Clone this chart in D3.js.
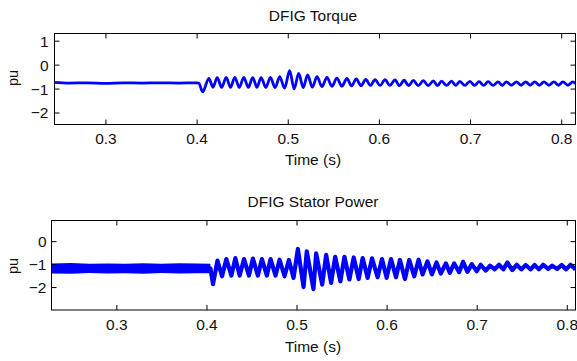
<!DOCTYPE html>
<html><head><meta charset="utf-8">
<script src="https://cdn.jsdelivr.net/npm/d3@7"></script>
<style>
html,body{margin:0;padding:0;background:#fff;}
svg{display:block;font-family:"Liberation Sans",Arial,Helvetica,sans-serif;}
</style></head>
<body>
<svg id="chart" width="577" height="361"></svg>
<script>
// ---------- data ----------
const titles = ["DFIG Torque", "DFIG Stator Power"];
const xLabel = "Time (s)";
const yLabel = "pu";
const xTicks = [0.3, 0.4, 0.5, 0.6, 0.7, 0.8];
const torqueYTicks = [1, 0, -1, -2];
const statorYTicks = [0, -1, -2];

// DFIG torque: [time s, pu] (line centre at peaks / troughs)
const torque = [
[0.244,-0.74],[0.26,-0.77],[0.28,-0.76],[0.30,-0.78],[0.32,-0.76],[0.34,-0.77],[0.36,-0.76],[0.38,-0.77],[0.400,-0.76],[0.4025,-0.77],[0.4065,-1.14],
[0.4135,-0.58],[0.4180,-0.95],[0.4226,-0.54],[0.4275,-0.95],[0.4325,-0.53],[0.4372,-0.95],[0.4419,-0.53],[0.4468,-0.95],[0.4518,-0.53],[0.4567,-0.95],
[0.4616,-0.54],[0.4662,-0.95],[0.4708,-0.54],[0.4760,-0.95],[0.4810,-0.53],[0.4861,-0.96],[0.4912,-0.50],[0.4965,-0.98],[0.5021,-0.25],[0.5070,-1.01],
[0.5120,-0.37],[0.5170,-0.96],[0.5218,-0.43],[0.5270,-0.94],[0.5321,-0.50],[0.5375,-0.92],[0.5430,-0.53],[0.5485,-0.91],[0.5539,-0.56],[0.5594,-0.90],
[0.5649,-0.58],[0.5700,-0.89],[0.5751,-0.60],[0.5804,-0.88],[0.5856,-0.62],[0.5907,-0.87],[0.5958,-0.63],[0.6013,-0.87],[0.6068,-0.63],[0.6120,-0.87],
[0.6177,-0.64],[0.6226,-0.88],[0.6276,-0.65],[0.6327,-0.88],[0.6378,-0.66],[0.6432,-0.88],[0.6487,-0.67],[0.6542,-0.88],[0.6597,-0.68],[0.6642,-0.88],
[0.6688,-0.69],[0.6742,-0.87],[0.6797,-0.69],[0.6842,-0.87],[0.6888,-0.70],[0.6943,-0.87],[0.6998,-0.70],[0.7049,-0.87],[0.7100,-0.71],[0.7149,-0.87],
[0.7198,-0.71],[0.7253,-0.87],[0.7308,-0.72],[0.7353,-0.86],[0.7399,-0.72],[0.7454,-0.86],[0.7509,-0.72],[0.7560,-0.86],[0.7611,-0.72],[0.7660,-0.86],
[0.7709,-0.72],[0.7760,-0.86],[0.7811,-0.72],[0.7865,-0.86],[0.7920,-0.72],[0.7970,-0.86],[0.8019,-0.72],[0.8074,-0.86],[0.8128,-0.72],[0.8157,-0.80]
];

// DFIG stator power: [time s, pu]
const stator = [
[0.228,-1.19],[0.4044,-1.19],[0.4073,-1.87],[0.4122,-0.85],[0.4173,-1.53],[0.4221,-0.78],[0.4277,-1.50],[0.4321,-0.74],[0.4369,-1.50],[0.4417,-0.78],
[0.4472,-1.50],[0.4516,-0.76],[0.4571,-1.50],[0.4616,-0.78],[0.4671,-1.50],[0.4712,-0.78],[0.4767,-1.50],[0.4812,-0.81],[0.4867,-1.53],[0.4915,-0.82],
[0.4967,-1.60],[0.5015,-0.34],[0.5078,-2.00],[0.5114,-0.44],[0.5188,-2.09],[0.5218,-0.53],[0.5285,-1.89],[0.5329,-0.60],[0.5384,-1.82],[0.5429,-0.68],
[0.5487,-1.75],[0.5532,-0.68],[0.5587,-1.67],[0.5635,-0.71],[0.5690,-1.65],[0.5734,-0.74],[0.5790,-1.60],[0.5838,-0.75],[0.5900,-1.57],[0.5949,-0.78],
[0.6000,-1.60],[0.6049,-0.78],[0.6104,-1.57],[0.6148,-0.82],[0.6204,-1.65],[0.6251,-0.82],[0.6307,-1.53],[0.6355,-0.81],[0.6399,-1.45],[0.6454,-0.88],
[0.6503,-1.45],[0.6554,-0.93],[0.6602,-1.41],[0.6658,-0.97],[0.6702,-1.38],[0.6750,-0.97],[0.6805,-1.35],[0.6849,-0.90],[0.6897,-1.34],[0.6946,-1.00],
[0.7001,-1.31],[0.7045,-1.03],[0.7101,-1.28],[0.7148,-1.07],[0.7200,-1.23],[0.7248,-1.03],[0.7296,-1.23],[0.7340,-0.93],[0.7395,-1.26],[0.7444,-1.03],
[0.7495,-1.23],[0.7544,-1.04],[0.7599,-1.23],[0.7643,-1.04],[0.7691,-1.23],[0.7739,-1.03],[0.7794,-1.21],[0.7838,-1.07],[0.7894,-1.21],[0.7943,-1.04],
[0.7993,-1.23],[0.8042,-1.03],[0.8097,-1.23]
];
// pre-fault high-frequency ripple band of the stator power: [time, upper, lower]
const statorBand = [
[0.228,-0.97,-1.41],[0.25,-0.95,-1.42],[0.27,-0.99,-1.39],[0.29,-0.97,-1.41],[0.31,-0.98,-1.40],[0.33,-0.96,-1.42],
[0.35,-0.98,-1.39],[0.37,-0.96,-1.41],[0.39,-0.97,-1.40],[0.4044,-0.98,-1.40]
];

// ---------- drawing ----------
const svg = d3.select("#chart");
const BLUE = "#0000ff";

const panels = [
  {title: titles[0], data: torque, band: null, yTicks: torqueYTicks,
   xDom: [0.2441, 0.8157], yDom: [-2.5, 1.3], curve: d3.curveMonotoneX,
   L: 54.5, R: 575.5, T: 33.5, B: 124.5, sw: 2.8,
   titleY: 21, tickY: 19.7, labelY: 165, yTickPad: 6, pu: {x: 17.8, y: 78}},
  {title: titles[1], data: stator, band: statorBand, yTicks: statorYTicks,
   xDom: [0.228, 0.8097], yDom: [-3, 0.9], curve: d3.curveLinear,
   L: 51.5, R: 575.5, T: 220.5, B: 310, sw: 4.2,
   titleY: 207.3, tickY: 20, labelY: 351.5, yTickPad: 5, pu: {x: 17.8, y: 266}}
];

panels.forEach((p, i) => {
  const x = d3.scaleLinear().domain(p.xDom).range([p.L, p.R]);
  const y = d3.scaleLinear().domain(p.yDom).range([p.B, p.T]);
  const g = svg.append("g");

  const clipId = "clip" + i;
  svg.append("clipPath").attr("id", clipId).append("rect")
    .attr("x", p.L).attr("y", p.T).attr("width", p.R - p.L).attr("height", p.B - p.T);

  const plot = g.append("g").attr("clip-path", `url(#${clipId})`);
  if (p.band) {
    plot.append("path").datum(p.band)
      .attr("fill", BLUE)
      .attr("d", d3.area().x(d => x(d[0])).y0(d => y(d[2])).y1(d => y(d[1])));
  }
  plot.append("path").datum(p.data)
    .attr("fill", "none").attr("stroke", BLUE).attr("stroke-width", p.sw)
    .attr("stroke-linejoin", "round")
    .attr("d", d3.line().curve(p.curve).x(d => x(d[0])).y(d => y(d[1])));

  // axes (ticks inward, mirrored on all four sides)
  const fs = "15.5px";
  const bx = g.append("g").attr("transform", `translate(0,${p.B})`)
    .call(d3.axisBottom(x).tickValues(xTicks).tickSize(-5).tickFormat(d3.format(".1f")));
  bx.selectAll("text").attr("y", p.tickY).attr("dy", 0).style("font-size", fs);
  const tx = g.append("g").attr("transform", `translate(0,${p.T})`)
    .call(d3.axisTop(x).tickValues(xTicks).tickSize(-5).tickFormat(""));
  const ly = g.append("g").attr("transform", `translate(${p.L},0)`)
    .call(d3.axisLeft(y).tickValues(p.yTicks).tickSize(-5).tickPadding(p.yTickPad).tickFormat(d3.format("d")));
  ly.selectAll("text").style("font-size", fs).attr("dy", "0.35em");
  const ry = g.append("g").attr("transform", `translate(${p.R},0)`)
    .call(d3.axisRight(y).tickValues(p.yTicks).tickSize(-5).tickFormat(""));
  [bx, tx, ly, ry].forEach(a => {
    a.select(".domain").remove();
    a.selectAll("line").attr("stroke", "#000");
    a.selectAll("text").attr("fill", "#111").style("font-family", "'Liberation Sans',Arial,sans-serif");
  });

  g.append("rect").attr("x", p.L).attr("y", p.T)
    .attr("width", p.R - p.L).attr("height", p.B - p.T)
    .attr("fill", "none").attr("stroke", "#000").attr("stroke-width", 1);

  g.append("text").attr("x", 313).attr("y", p.titleY).attr("text-anchor", "middle")
    .style("font-size", "15.5px").attr("fill", "#111").text(p.title);
  g.append("text").attr("x", 313).attr("y", p.labelY).attr("text-anchor", "middle")
    .style("font-size", "15.5px").attr("fill", "#111").text(xLabel);
  g.append("text").attr("transform", `translate(${p.pu.x},${p.pu.y}) rotate(-90)`)
    .attr("text-anchor", "middle").style("font-size", "14.5px").attr("fill", "#111").text(yLabel);
});
</script>
</body></html>
